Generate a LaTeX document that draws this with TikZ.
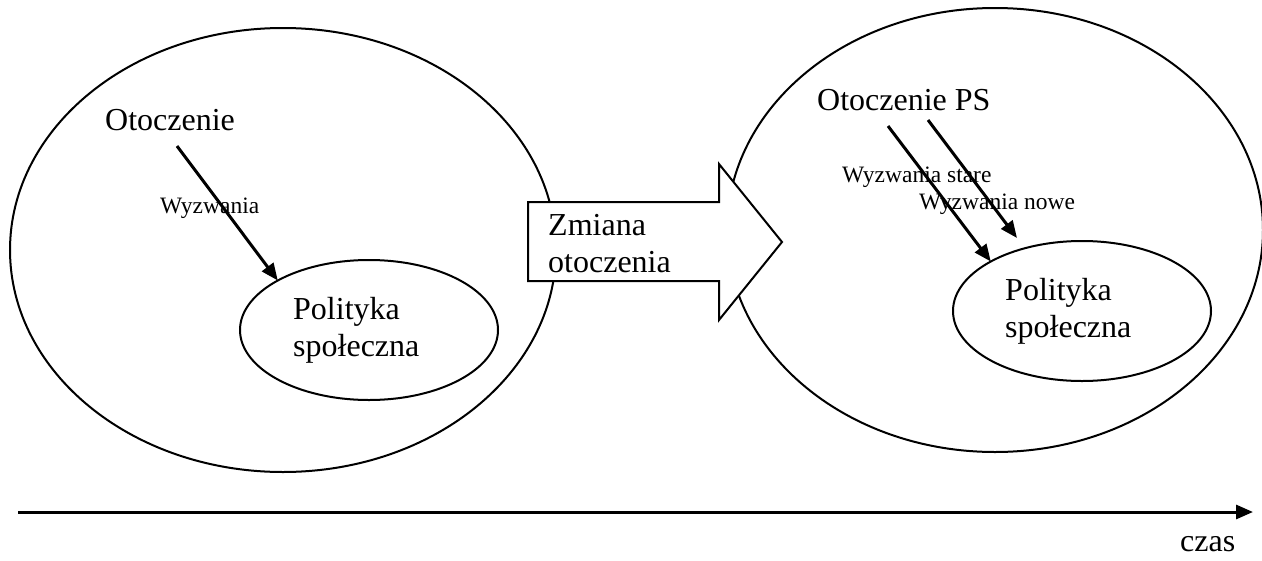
\documentclass[tikz,border=0pt]{standalone}
\usepackage{fontspec}
\setmainfont{Liberation Serif}
\usetikzlibrary{arrows.meta,shapes.geometric}
\begin{document}
\begin{tikzpicture}[x=1pt,y=-1pt,
  big/.style={font=\fontsize{32}{37}\selectfont, inner sep=0pt, align=left, anchor=base west},
  small/.style={font=\fontsize{23.5}{27}\selectfont, inner sep=0pt, anchor=base west},
  ring/.style={draw, line width=2pt, ellipse, inner sep=0pt, outer sep=0pt},
  conn/.style={line width=3pt, -{Triangle[length=17pt,width=14pt]}},
  bigarrow/.style={draw, line width=2pt, fill=white, line join=miter},
]
\useasboundingbox (0,0) rectangle (1262,560);
% outer ellipses
\node[ring, minimum width=546pt, minimum height=444pt] (envL) at (283,250) {};
\node[ring, minimum width=536pt, minimum height=444pt] (envR) at (995,230) {};
% inner ellipses
\node[ring, minimum width=258pt, minimum height=140pt] (psL) at (369,330) {};
\node[ring, minimum width=258pt, minimum height=140pt] (psR) at (1082,311) {};
% big block arrow
\draw[bigarrow] (528,202) -- (719,202) -- (719,164) -- (782,242) -- (719,320) -- (719,281) -- (528,281) -- cycle;
% texts (base anchor = baseline of the last line)
\node[big] (otL) at (105,130) {Otoczenie};
\node[big] (polL) at (293,356) {Polityka\\społeczna};
\node[big] (otR) at (817,110) {Otoczenie PS};
\node[big] (polR) at (1005,337) {Polityka\\społeczna};
\node[big] (zm) at (548,272) {Zmiana\\otoczenia};
\node[big] (czas) at (1180,551) {czas};
\node[small] (wL) at (160,213) {Wyzwania};
\node[small] (wRs) at (842,182) {Wyzwania stare};
\node[small] (wRn) at (919,209) {Wyzwania nowe};
% connectors
\coordinate (sL) at (177,146);
\draw[conn] (sL) -- (psL.north west);
\coordinate (sR1) at (888,126);
\draw[conn] (sR1) -- (psR.north west);
\coordinate (sR2) at (928,120);
\coordinate (eR2) at (1017,238);
\draw[conn] (sR2) -- (eR2);
% time axis
\coordinate (t0) at (18,512);
\coordinate (t1) at (1253,512);
\draw[conn] (t0) -- (t1);
\end{tikzpicture}
\end{document}
